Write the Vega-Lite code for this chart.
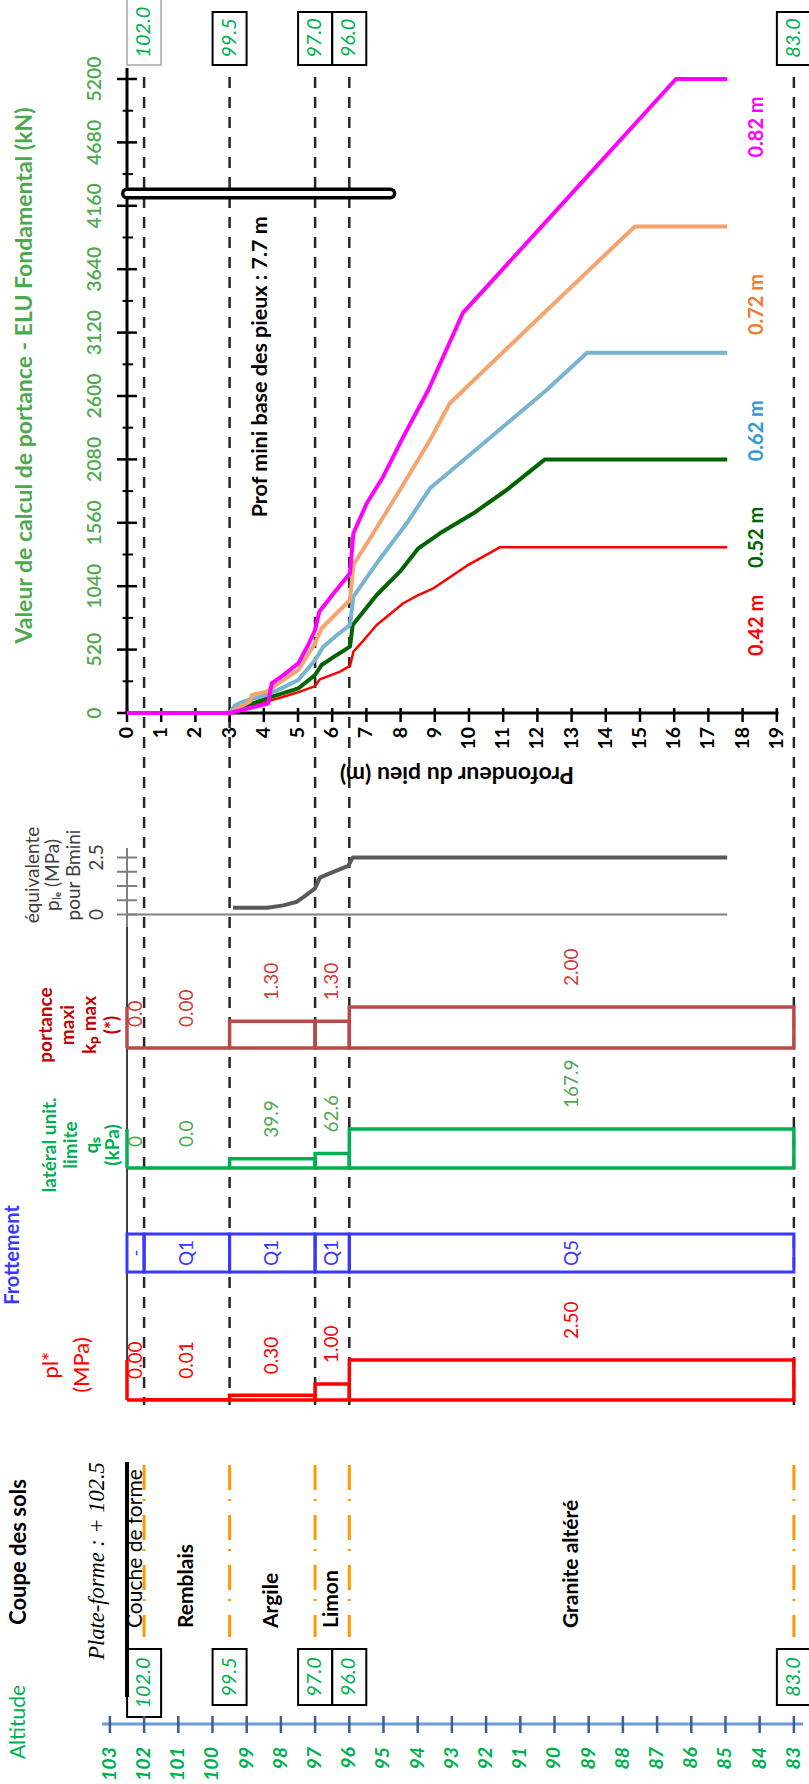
{
"$schema": "https://vega.github.io/schema/vega-lite/v6.json",
"width": 809, "height": 1784, "padding": 0, "autosize": {"type": "none"},
"background": "white",
"config": {"view": {"stroke": null}, "text": {"font": "Lato"}},
"datasets": {
"one": [{}],
"bounds": [{"depth": 0.5, "alt": "102.0"}, {"depth": 3, "alt": "99.5"}, {"depth": 5.5, "alt": "97.0"}, {"depth": 6.5, "alt": "96.0"}, {"depth": 19.5, "alt": "83.0"}],
"layers": [
 {"top": 0, "bottom": 0.5, "mid": 0.25, "soil": "Couche de forme", "pl": 0.00, "frot": "-", "qs": 0, "qs_lbl": "0", "kp": 0, "kp_lbl": "0.0"},
 {"top": 0.5, "bottom": 3, "mid": 1.75, "soil": "Remblais", "pl": 0.01, "frot": "Q1", "qs": 0, "qs_lbl": "0.0", "kp": 0, "kp_lbl": "0.00"},
 {"top": 3, "bottom": 5.5, "mid": 4.25, "soil": "Argile", "pl": 0.30, "frot": "Q1", "qs": 39.9, "qs_lbl": "39.9", "kp": 1.30, "kp_lbl": "1.30"},
 {"top": 5.5, "bottom": 6.5, "mid": 6.0, "soil": "Limon", "pl": 1.00, "frot": "Q1", "qs": 62.6, "qs_lbl": "62.6", "kp": 1.30, "kp_lbl": "1.30"},
 {"top": 6.5, "bottom": 19.5, "mid": 13.0, "soil": "Granite altéré", "pl": 2.50, "frot": "Q5", "qs": 167.9, "qs_lbl": "167.9", "kp": 2.00, "kp_lbl": "2.00"}],
"depthticks": [{"depth":0},{"depth":1},{"depth":2},{"depth":3},{"depth":4},{"depth":5},{"depth":6},{"depth":7},{"depth":8},{"depth":9},{"depth":10},{"depth":11},{"depth":12},{"depth":13},{"depth":14},{"depth":15},{"depth":16},{"depth":17},{"depth":18},{"depth":19}],
"capticks": [{"cap":0},{"cap":520},{"cap":1040},{"cap":1560},{"cap":2080},{"cap":2600},{"cap":3120},{"cap":3640},{"cap":4160},{"cap":4680},{"cap":5200}],
"capminor": [{"cap":260},{"cap":780},{"cap":1300},{"cap":1820},{"cap":2340},{"cap":2860},{"cap":3380},{"cap":3900},{"cap":4420},{"cap":4940}],
"altticks": [{"alt":103},{"alt":102},{"alt":101},{"alt":100},{"alt":99},{"alt":98},{"alt":97},{"alt":96},{"alt":95},{"alt":94},{"alt":93},{"alt":92},{"alt":91},{"alt":90},{"alt":89},{"alt":88},{"alt":87},{"alt":86},{"alt":85},{"alt":84},{"alt":83}],
"pilemin": [{"depth": 0, "cap": 4260}, {"depth": 7.7, "cap": 4260}],
"ple": [{"depth":3.1,"ple":0.30},{"depth":4.1,"ple":0.30},{"depth":4.57,"ple":0.40},{"depth":4.97,"ple":0.56},{"depth":5.2,"ple":0.81},{"depth":5.5,"ple":1.15},{"depth":5.64,"ple":1.62},{"depth":6.0,"ple":1.85},{"depth":6.47,"ple":2.13},{"depth":6.6,"ple":2.5},{"depth":17.55,"ple":2.5}],
"pleticks": [{"ple":0},{"ple":0.625},{"ple":1.25},{"ple":1.875},{"ple":2.5}],
"plelabels": [{"ple":0,"t":"0"},{"ple":2.5,"t":"2.5"}],
"curves": [
 {"s":"0.42 m","depth":0,"cap":0},{"s":"0.42 m","depth":3,"cap":0},{"s":"0.42 m","depth":3.5,"cap":40},{"s":"0.42 m","depth":4.08,"cap":93},{"s":"0.42 m","depth":4.6,"cap":135},{"s":"0.42 m","depth":5.06,"cap":175},{"s":"0.42 m","depth":5.5,"cap":221},{"s":"0.42 m","depth":5.64,"cap":276},{"s":"0.42 m","depth":6.23,"cap":339},{"s":"0.42 m","depth":6.52,"cap":386},{"s":"0.42 m","depth":6.62,"cap":503},{"s":"0.42 m","depth":6.9,"cap":590},{"s":"0.42 m","depth":7.3,"cap":722},{"s":"0.42 m","depth":8.08,"cap":900},{"s":"0.42 m","depth":8.5,"cap":965},{"s":"0.42 m","depth":8.96,"cap":1023},{"s":"0.42 m","depth":9.93,"cap":1206},{"s":"0.42 m","depth":10.9,"cap":1359},{"s":"0.42 m","depth":17.55,"cap":1359},
 {"s":"0.52 m","depth":0,"cap":0},{"s":"0.52 m","depth":3,"cap":0},{"s":"0.52 m","depth":3.2,"cap":30},{"s":"0.52 m","depth":3.6,"cap":70},{"s":"0.52 m","depth":4.08,"cap":120},{"s":"0.52 m","depth":5.01,"cap":202},{"s":"0.52 m","depth":5.5,"cap":312},{"s":"0.52 m","depth":5.69,"cap":394},{"s":"0.52 m","depth":6.1,"cap":470},{"s":"0.52 m","depth":6.52,"cap":544},{"s":"0.52 m","depth":6.6,"cap":722},{"s":"0.52 m","depth":7.3,"cap":968},{"s":"0.52 m","depth":7.98,"cap":1159},{"s":"0.52 m","depth":8.52,"cap":1351},{"s":"0.52 m","depth":9.15,"cap":1474},{"s":"0.52 m","depth":10.13,"cap":1638},{"s":"0.52 m","depth":11.1,"cap":1829},{"s":"0.52 m","depth":12.22,"cap":2080},{"s":"0.52 m","depth":17.55,"cap":2080},
 {"s":"0.62 m","depth":0,"cap":0},{"s":"0.62 m","depth":3,"cap":0},{"s":"0.62 m","depth":3.15,"cap":60},{"s":"0.62 m","depth":3.4,"cap":93},{"s":"0.62 m","depth":4.08,"cap":148},{"s":"0.62 m","depth":4.5,"cap":200},{"s":"0.62 m","depth":5.01,"cap":271},{"s":"0.62 m","depth":5.5,"cap":435},{"s":"0.62 m","depth":5.74,"cap":544},{"s":"0.62 m","depth":6.1,"cap":630},{"s":"0.62 m","depth":6.52,"cap":722},{"s":"0.62 m","depth":6.62,"cap":954},{"s":"0.62 m","depth":7.3,"cap":1228},{"s":"0.62 m","depth":8.18,"cap":1556},{"s":"0.62 m","depth":8.86,"cap":1843},{"s":"0.62 m","depth":9.74,"cap":2050},{"s":"0.62 m","depth":10.9,"cap":2325},{"s":"0.62 m","depth":12.27,"cap":2649},{"s":"0.62 m","depth":13.45,"cap":2955},{"s":"0.62 m","depth":17.55,"cap":2955},
 {"s":"0.72 m","depth":0,"cap":0},{"s":"0.72 m","depth":3,"cap":0},{"s":"0.72 m","depth":3.3,"cap":50},{"s":"0.72 m","depth":3.6,"cap":95},{"s":"0.72 m","depth":3.65,"cap":148},{"s":"0.72 m","depth":4.08,"cap":175},{"s":"0.72 m","depth":4.5,"cap":260},{"s":"0.72 m","depth":5.01,"cap":353},{"s":"0.72 m","depth":5.5,"cap":572},{"s":"0.72 m","depth":5.69,"cap":695},{"s":"0.72 m","depth":6.13,"cap":818},{"s":"0.72 m","depth":6.52,"cap":927},{"s":"0.72 m","depth":6.62,"cap":1214},{"s":"0.72 m","depth":7.2,"cap":1474},{"s":"0.72 m","depth":7.98,"cap":1829},{"s":"0.72 m","depth":8.86,"cap":2239},{"s":"0.72 m","depth":9.44,"cap":2540},{"s":"0.72 m","depth":12,"cap":3230},{"s":"0.72 m","depth":14.85,"cap":3990},{"s":"0.72 m","depth":17.55,"cap":3990},
 {"s":"0.82 m","depth":0,"cap":0},{"s":"0.82 m","depth":3,"cap":0},{"s":"0.82 m","depth":3.5,"cap":35},{"s":"0.82 m","depth":4.13,"cap":78},{"s":"0.82 m","depth":4.23,"cap":243},{"s":"0.82 m","depth":4.57,"cap":311},{"s":"0.82 m","depth":5.01,"cap":407},{"s":"0.82 m","depth":5.3,"cap":560},{"s":"0.82 m","depth":5.5,"cap":681},{"s":"0.82 m","depth":5.62,"cap":831},{"s":"0.82 m","depth":6.08,"cap":995},{"s":"0.82 m","depth":6.52,"cap":1146},{"s":"0.82 m","depth":6.62,"cap":1474},{"s":"0.82 m","depth":7.01,"cap":1720},{"s":"0.82 m","depth":7.49,"cap":1938},{"s":"0.82 m","depth":8.08,"cap":2266},{"s":"0.82 m","depth":8.81,"cap":2649},{"s":"0.82 m","depth":9.82,"cap":3281},{"s":"0.82 m","depth":13,"cap":4260},{"s":"0.82 m","depth":16.05,"cap":5200},{"s":"0.82 m","depth":17.55,"cap":5200}]
},
"layer": [
{
"layer": [
 {"data": {"name": "bounds"}, "mark": {"type": "rule", "color": "#262626", "strokeWidth": 2.5, "strokeDash": [11, 9]},
  "encoding": {"x": {"field": "depth", "type": "quantitative", "scale": {"domain": [-3.7135, 19.942], "nice": false, "zero": false}, "axis": null},
   "y": {"datum": 95.684, "type": "quantitative", "scale": {"domain": [0, 100], "nice": false, "zero": false}, "axis": null}, "y2": {"datum": 21.244}}},
 {"data": {"name": "one"}, "mark": {"type": "rule", "color": "#000000", "strokeWidth": 1.5},
  "encoding": {"x": {"datum": 0, "type": "quantitative", "scale": {"domain": [-3.7135, 19.942], "nice": false, "zero": false}, "axis": null},
   "y": {"datum": 48.038, "type": "quantitative", "scale": {"domain": [0, 100], "nice": false, "zero": false}, "axis": null}, "y2": {"datum": 21.525}}},

 {"data": {"name": "one"}, "mark": {"type": "rule", "color": "#000000", "strokeWidth": 3},
  "encoding": {"x": {"datum": 0, "type": "quantitative", "scale": {"domain": [-3.7135, 19.942], "nice": false, "zero": false}, "axis": null},
   "y": {"datum": 0, "type": "quantitative", "scale": {"domain": [-8784.2, 5847.9], "nice": false, "zero": false}, "axis": null}, "y2": {"datum": 5290}}},
 {"data": {"name": "one"}, "mark": {"type": "rule", "color": "#000000", "strokeWidth": 3},
  "encoding": {"x": {"datum": 0, "type": "quantitative", "scale": {"domain": [-3.7135, 19.942], "nice": false, "zero": false}, "axis": null}, "x2": {"datum": 19.05},
   "y": {"datum": 0, "type": "quantitative", "scale": {"domain": [-8784.2, 5847.9], "nice": false, "zero": false}, "axis": null}}},
 {"data": {"name": "capticks"}, "mark": {"type": "rule", "color": "#000000", "strokeWidth": 2.5},
  "encoding": {"x": {"datum": -0.292, "type": "quantitative", "scale": {"domain": [-3.7135, 19.942], "nice": false, "zero": false}, "axis": null}, "x2": {"datum": 0.292},
   "y": {"field": "cap", "type": "quantitative", "scale": {"domain": [-8784.2, 5847.9], "nice": false, "zero": false}, "axis": null}}},
 {"data": {"name": "capminor"}, "mark": {"type": "rule", "color": "#000000", "strokeWidth": 2},
  "encoding": {"x": {"datum": -0.13, "type": "quantitative", "scale": {"domain": [-3.7135, 19.942], "nice": false, "zero": false}, "axis": null}, "x2": {"datum": 0.18},
   "y": {"field": "cap", "type": "quantitative", "scale": {"domain": [-8784.2, 5847.9], "nice": false, "zero": false}, "axis": null}}},
 {"data": {"name": "capticks"}, "mark": {"type": "text", "angle": 270, "align": "center", "baseline": "middle", "fontSize": 19.5, "fontWeight": 600, "color": "#4EA84E"},
  "encoding": {"x": {"datum": -0.936, "type": "quantitative", "scale": {"domain": [-3.7135, 19.942], "nice": false, "zero": false}, "axis": null},
   "y": {"field": "cap", "type": "quantitative", "scale": {"domain": [-8784.2, 5847.9], "nice": false, "zero": false}, "axis": null},
   "text": {"field": "cap", "type": "quantitative", "format": "d"}}},
 {"data": {"name": "depthticks"}, "mark": {"type": "rule", "color": "#000000", "strokeWidth": 2.5},
  "encoding": {"x": {"field": "depth", "type": "quantitative", "scale": {"domain": [-3.7135, 19.942], "nice": false, "zero": false}, "axis": null},
   "y": {"datum": 41, "type": "quantitative", "scale": {"domain": [-8784.2, 5847.9], "nice": false, "zero": false}, "axis": null}, "y2": {"datum": -74}}},
 {"data": {"name": "depthticks"}, "mark": {"type": "text", "angle": 270, "align": "right", "baseline": "middle", "fontSize": 19.5, "fontWeight": "bold", "color": "#000000"},
  "encoding": {"x": {"field": "depth", "type": "quantitative", "scale": {"domain": [-3.7135, 19.942], "nice": false, "zero": false}, "axis": null},
   "y": {"datum": -114.8, "type": "quantitative", "scale": {"domain": [-8784.2, 5847.9], "nice": false, "zero": false}, "axis": null},
   "text": {"field": "depth", "type": "quantitative", "format": "d"}}},
 {"data": {"name": "one"}, "mark": {"type": "text", "angle": 270, "align": "center", "baseline": "middle", "fontSize": 23, "fontWeight": "bold", "color": "#4EA84E", "text": "Valeur de calcul de portance - ELU Fondamental (kN)"},
  "encoding": {"x": {"datum": -2.982, "type": "quantitative", "scale": {"domain": [-3.7135, 19.942], "nice": false, "zero": false}, "axis": null},
   "y": {"datum": 2768, "type": "quantitative", "scale": {"domain": [-8784.2, 5847.9], "nice": false, "zero": false}, "axis": null}}},

 {"data": {"name": "curves"}, "transform": [{"filter": {"field": "s", "equal": "0.42 m"}}], "mark": {"type": "line", "color": "#FF0000", "strokeWidth": 2.5, "strokeJoin": "round"},
  "encoding": {"x": {"field": "depth", "type": "quantitative", "scale": {"domain": [-3.7135, 19.942], "nice": false, "zero": false}, "axis": null},
   "y": {"field": "cap", "type": "quantitative", "scale": {"domain": [-8784.2, 5847.9], "nice": false, "zero": false}, "axis": null}}},
 {"data": {"name": "curves"}, "transform": [{"filter": {"field": "s", "equal": "0.52 m"}}], "mark": {"type": "line", "color": "#006400", "strokeWidth": 4, "strokeJoin": "round"},
  "encoding": {"x": {"field": "depth", "type": "quantitative", "scale": {"domain": [-3.7135, 19.942], "nice": false, "zero": false}, "axis": null},
   "y": {"field": "cap", "type": "quantitative", "scale": {"domain": [-8784.2, 5847.9], "nice": false, "zero": false}, "axis": null}}},
 {"data": {"name": "curves"}, "transform": [{"filter": {"field": "s", "equal": "0.62 m"}}], "mark": {"type": "line", "color": "#78B4CF", "strokeWidth": 4, "strokeJoin": "round"},
  "encoding": {"x": {"field": "depth", "type": "quantitative", "scale": {"domain": [-3.7135, 19.942], "nice": false, "zero": false}, "axis": null},
   "y": {"field": "cap", "type": "quantitative", "scale": {"domain": [-8784.2, 5847.9], "nice": false, "zero": false}, "axis": null}}},
 {"data": {"name": "curves"}, "transform": [{"filter": {"field": "s", "equal": "0.72 m"}}], "mark": {"type": "line", "color": "#F5A46F", "strokeWidth": 4, "strokeJoin": "round"},
  "encoding": {"x": {"field": "depth", "type": "quantitative", "scale": {"domain": [-3.7135, 19.942], "nice": false, "zero": false}, "axis": null},
   "y": {"field": "cap", "type": "quantitative", "scale": {"domain": [-8784.2, 5847.9], "nice": false, "zero": false}, "axis": null}}},
 {"data": {"name": "curves"}, "transform": [{"filter": {"field": "s", "equal": "0.82 m"}}], "mark": {"type": "line", "color": "#FF00FF", "strokeWidth": 4, "strokeJoin": "round"},
  "encoding": {"x": {"field": "depth", "type": "quantitative", "scale": {"domain": [-3.7135, 19.942], "nice": false, "zero": false}, "axis": null},
   "y": {"field": "cap", "type": "quantitative", "scale": {"domain": [-8784.2, 5847.9], "nice": false, "zero": false}, "axis": null}}},
 {"data": {"name": "pilemin"}, "mark": {"type": "line", "color": "#000000", "strokeWidth": 12, "strokeCap": "round"},
  "encoding": {"x": {"field": "depth", "type": "quantitative", "scale": {"domain": [-3.7135, 19.942], "nice": false, "zero": false}, "axis": null},
   "y": {"field": "cap", "type": "quantitative", "scale": {"domain": [-8784.2, 5847.9], "nice": false, "zero": false}, "axis": null}}},
 {"data": {"name": "pilemin"}, "mark": {"type": "line", "color": "#FFFFFF", "strokeWidth": 5, "strokeCap": "round"},
  "encoding": {"x": {"field": "depth", "type": "quantitative", "scale": {"domain": [-3.7135, 19.942], "nice": false, "zero": false}, "axis": null},
   "y": {"field": "cap", "type": "quantitative", "scale": {"domain": [-8784.2, 5847.9], "nice": false, "zero": false}, "axis": null}}},
 {"data": {"name": "one"}, "mark": {"type": "text", "angle": 270, "align": "center", "baseline": "middle", "fontSize": 21.5, "fontWeight": "bold", "color": "#000000", "text": "Prof mini base des pieux : 7.7 m"},
  "encoding": {"x": {"datum": 3.918, "type": "quantitative", "scale": {"domain": [-3.7135, 19.942], "nice": false, "zero": false}, "axis": null},
   "y": {"datum": 2840, "type": "quantitative", "scale": {"domain": [-8784.2, 5847.9], "nice": false, "zero": false}, "axis": null}}},
 {"data": {"name": "curves"}, "transform": [{"filter": "datum.depth == 17.55 && datum.s != '0.82 m'"}], "mark": {"type": "text", "angle": 270, "align": "center", "baseline": "middle", "fontSize": 20, "fontWeight": "bold", "dx": -78},
  "encoding": {"x": {"datum": 18.42, "type": "quantitative", "scale": {"domain": [-3.7135, 19.942], "nice": false, "zero": false}, "axis": null},
   "y": {"field": "cap", "type": "quantitative", "scale": {"domain": [-8784.2, 5847.9], "nice": false, "zero": false}, "axis": null},
   "text": {"field": "s"},
   "color": {"field": "s", "type": "nominal", "scale": {"domain": ["0.42 m", "0.52 m", "0.62 m", "0.72 m"], "range": ["#FF0000", "#006400", "#2E9AD0", "#ED7D31"]}, "legend": null}}},
 {"data": {"name": "curves"}, "transform": [{"filter": "datum.depth == 17.55 && datum.s == '0.82 m'"}], "mark": {"type": "text", "angle": 270, "align": "center", "baseline": "middle", "fontSize": 20, "fontWeight": "bold", "dx": -48, "color": "#FF00FF"},
  "encoding": {"x": {"datum": 18.42, "type": "quantitative", "scale": {"domain": [-3.7135, 19.942], "nice": false, "zero": false}, "axis": null},
   "y": {"field": "cap", "type": "quantitative", "scale": {"domain": [-8784.2, 5847.9], "nice": false, "zero": false}, "axis": null},
   "text": {"field": "s"}}},
 {"data": {"name": "one"}, "mark": {"type": "text", "angle": 180, "align": "center", "baseline": "middle", "fontSize": 23, "fontWeight": "bold", "color": "#000000", "text": "Profondeur du pieu (m)"},
  "encoding": {"x": {"datum": 9.649, "type": "quantitative", "scale": {"domain": [-3.7135, 19.942], "nice": false, "zero": false}, "axis": null},
   "y": {"datum": 56.614, "type": "quantitative", "scale": {"domain": [0, 100], "nice": false, "zero": false}, "axis": null}}},

 {"data": {"name": "one"}, "mark": {"type": "rule", "color": "#7F7F7F", "strokeWidth": 2},
  "encoding": {"x": {"datum": 0, "type": "quantitative", "scale": {"domain": [-3.7135, 19.942], "nice": false, "zero": false}, "axis": null}, "x2": {"datum": 17.55},
   "y": {"datum": 0, "type": "quantitative", "scale": {"domain": [-38.136, 40.110], "nice": false, "zero": false}, "axis": null}}},
 {"data": {"name": "one"}, "mark": {"type": "rule", "color": "#7F7F7F", "strokeWidth": 2},
  "encoding": {"x": {"datum": 0, "type": "quantitative", "scale": {"domain": [-3.7135, 19.942], "nice": false, "zero": false}, "axis": null},
   "y": {"datum": -0.55, "type": "quantitative", "scale": {"domain": [-38.136, 40.110], "nice": false, "zero": false}, "axis": null}, "y2": {"datum": 2.92}}},
 {"data": {"name": "pleticks"}, "mark": {"type": "rule", "color": "#7F7F7F", "strokeWidth": 2},
  "encoding": {"x": {"datum": -0.292, "type": "quantitative", "scale": {"domain": [-3.7135, 19.942], "nice": false, "zero": false}, "axis": null}, "x2": {"datum": 0.292},
   "y": {"field": "ple", "type": "quantitative", "scale": {"domain": [-38.136, 40.110], "nice": false, "zero": false}, "axis": null}}},
 {"data": {"name": "plelabels"}, "mark": {"type": "text", "angle": 270, "align": "center", "baseline": "middle", "fontSize": 19, "color": "#404040"},
  "encoding": {"x": {"datum": -0.877, "type": "quantitative", "scale": {"domain": [-3.7135, 19.942], "nice": false, "zero": false}, "axis": null},
   "y": {"field": "ple", "type": "quantitative", "scale": {"domain": [-38.136, 40.110], "nice": false, "zero": false}, "axis": null},
   "text": {"field": "t"}}},
 {"data": {"name": "ple"}, "mark": {"type": "line", "color": "#595959", "strokeWidth": 4, "strokeJoin": "round"},
  "encoding": {"x": {"field": "depth", "type": "quantitative", "scale": {"domain": [-3.7135, 19.942], "nice": false, "zero": false}, "axis": null},
   "y": {"field": "ple", "type": "quantitative", "scale": {"domain": [-38.136, 40.110], "nice": false, "zero": false}, "axis": null}}},

 {"data": {"name": "layers"}, "mark": {"type": "rect", "fill": null, "stroke": "#B94A48", "strokeWidth": 3.5},
  "encoding": {"x": {"field": "top", "type": "quantitative", "scale": {"domain": [-3.7135, 19.942], "nice": false, "zero": false}, "axis": null}, "x2": {"field": "bottom"},
   "y": {"field": "kp", "type": "quantitative", "scale": {"domain": [-35.902, 51.122], "nice": false, "zero": false}, "axis": null}, "y2": {"datum": 0}}},
 {"data": {"name": "one"}, "mark": {"type": "rule", "color": "#B94A48", "strokeWidth": 3.5},
  "encoding": {"x": {"datum": 0, "type": "quantitative", "scale": {"domain": [-3.7135, 19.942], "nice": false, "zero": false}, "axis": null},
   "y": {"datum": 0, "type": "quantitative", "scale": {"domain": [-35.902, 51.122], "nice": false, "zero": false}, "axis": null}, "y2": {"datum": 2.0}}},
 {"data": {"name": "layers"}, "mark": {"type": "text", "angle": 270, "align": "left", "baseline": "middle", "fontSize": 19, "color": "#D03A36", "dx": 21},
  "encoding": {"x": {"field": "mid", "type": "quantitative", "scale": {"domain": [-3.7135, 19.942], "nice": false, "zero": false}, "axis": null},
   "y": {"field": "kp", "type": "quantitative", "scale": {"domain": [-35.902, 51.122], "nice": false, "zero": false}, "axis": null},
   "text": {"field": "kp_lbl"}}},

 {"data": {"name": "layers"}, "mark": {"type": "rect", "fill": null, "stroke": "#00B050", "strokeWidth": 3.5},
  "encoding": {"x": {"field": "top", "type": "quantitative", "scale": {"domain": [-3.7135, 19.942], "nice": false, "zero": false}, "axis": null}, "x2": {"field": "bottom"},
   "y": {"field": "qs", "type": "quantitative", "scale": {"domain": [-2652.0, 5028.4], "nice": false, "zero": false}, "axis": null}, "y2": {"datum": 0}}},
 {"data": {"name": "one"}, "mark": {"type": "rule", "color": "#00B050", "strokeWidth": 3.5},
  "encoding": {"x": {"datum": 0, "type": "quantitative", "scale": {"domain": [-3.7135, 19.942], "nice": false, "zero": false}, "axis": null},
   "y": {"datum": 0, "type": "quantitative", "scale": {"domain": [-2652.0, 5028.4], "nice": false, "zero": false}, "axis": null}, "y2": {"datum": 167.9}}},
 {"data": {"name": "layers"}, "mark": {"type": "text", "angle": 270, "align": "left", "baseline": "middle", "fontSize": 19, "color": "#4EA84E", "dx": 21},
  "encoding": {"x": {"field": "mid", "type": "quantitative", "scale": {"domain": [-3.7135, 19.942], "nice": false, "zero": false}, "axis": null},
   "y": {"field": "qs", "type": "quantitative", "scale": {"domain": [-2652.0, 5028.4], "nice": false, "zero": false}, "axis": null},
   "text": {"field": "qs_lbl"}}},

 {"data": {"name": "layers"}, "mark": {"type": "rect", "fill": null, "stroke": "#3838FF", "strokeWidth": 3},
  "encoding": {"x": {"field": "top", "type": "quantitative", "scale": {"domain": [-3.7135, 19.942], "nice": false, "zero": false}, "axis": null}, "x2": {"field": "bottom"},
   "y": {"datum": 0, "type": "quantitative", "scale": {"domain": [-13.474, 33.474], "nice": false, "zero": false}, "axis": null}, "y2": {"datum": 1}}},
 {"data": {"name": "layers"}, "mark": {"type": "text", "angle": 270, "align": "center", "baseline": "middle", "fontSize": 19, "color": "#3838FF"},
  "encoding": {"x": {"field": "mid", "type": "quantitative", "scale": {"domain": [-3.7135, 19.942], "nice": false, "zero": false}, "axis": null},
   "y": {"datum": 0.5, "type": "quantitative", "scale": {"domain": [-13.474, 33.474], "nice": false, "zero": false}, "axis": null},
   "text": {"field": "frot"}}},

 {"data": {"name": "layers"}, "mark": {"type": "rect", "fill": null, "stroke": "#FF0000", "strokeWidth": 3.5},
  "encoding": {"x": {"field": "top", "type": "quantitative", "scale": {"domain": [-3.7135, 19.942], "nice": false, "zero": false}, "axis": null}, "x2": {"field": "bottom"},
   "y": {"field": "pl", "type": "quantitative", "scale": {"domain": [-24, 87.5], "nice": false, "zero": false}, "axis": null}, "y2": {"datum": 0}}},
 {"data": {"name": "one"}, "mark": {"type": "rule", "color": "#FF0000", "strokeWidth": 3.5},
  "encoding": {"x": {"datum": 0, "type": "quantitative", "scale": {"domain": [-3.7135, 19.942], "nice": false, "zero": false}, "axis": null},
   "y": {"datum": 0, "type": "quantitative", "scale": {"domain": [-24, 87.5], "nice": false, "zero": false}, "axis": null}, "y2": {"datum": 2.5}}},
 {"data": {"name": "layers"}, "mark": {"type": "text", "angle": 270, "align": "left", "baseline": "middle", "fontSize": 19, "color": "#FF0000", "dx": 21},
  "encoding": {"x": {"field": "mid", "type": "quantitative", "scale": {"domain": [-3.7135, 19.942], "nice": false, "zero": false}, "axis": null},
   "y": {"field": "pl", "type": "quantitative", "scale": {"domain": [-24, 87.5], "nice": false, "zero": false}, "axis": null},
   "text": {"field": "pl", "type": "quantitative", "format": ".2f"}}},

 {"data": {"name": "bounds"}, "mark": {"type": "rule", "color": "#FF9900", "strokeWidth": 3, "strokeDash": [25, 9, 2, 14]},
  "encoding": {"x": {"field": "depth", "type": "quantitative", "scale": {"domain": [-3.7135, 19.942], "nice": false, "zero": false}, "axis": null},
   "y": {"datum": 17.881, "type": "quantitative", "scale": {"domain": [0, 100], "nice": false, "zero": false}, "axis": null}, "y2": {"datum": 8.24}}},
 {"data": {"name": "one"}, "mark": {"type": "rule", "color": "#000000", "strokeWidth": 4},
  "encoding": {"x": {"datum": 0, "type": "quantitative", "scale": {"domain": [-3.7135, 19.942], "nice": false, "zero": false}, "axis": null},
   "y": {"datum": 18.049, "type": "quantitative", "scale": {"domain": [0, 100], "nice": false, "zero": false}, "axis": null}, "y2": {"datum": 4.877}}},
 {"data": {"name": "layers"}, "transform": [{"filter": {"field": "soil", "equal": "Couche de forme"}}], "mark": {"type": "text", "angle": 270, "align": "left", "baseline": "middle", "fontSize": 21, "color": "#000000"},
  "encoding": {"x": {"field": "mid", "type": "quantitative", "scale": {"domain": [-3.7135, 19.942], "nice": false, "zero": false}, "axis": null},
   "y": {"datum": 8.744, "type": "quantitative", "scale": {"domain": [0, 100], "nice": false, "zero": false}, "axis": null},
   "text": {"field": "soil"}}},
 {"data": {"name": "layers"}, "transform": [{"filter": "datum.soil != 'Couche de forme'"}], "mark": {"type": "text", "angle": 270, "align": "left", "baseline": "middle", "fontSize": 21, "fontWeight": "bold", "color": "#000000"},
  "encoding": {"x": {"field": "mid", "type": "quantitative", "scale": {"domain": [-3.7135, 19.942], "nice": false, "zero": false}, "axis": null},
   "y": {"datum": 8.744, "type": "quantitative", "scale": {"domain": [0, 100], "nice": false, "zero": false}, "axis": null},
   "text": {"field": "soil"}}},
 {"data": {"name": "one"}, "mark": {"type": "text", "angle": 270, "align": "center", "baseline": "middle", "fontSize": 22.5, "font": "Liberation Serif", "fontStyle": "italic", "color": "#000000", "text": "Plate-forme : + 102.5"},
  "encoding": {"x": {"datum": -0.877, "type": "quantitative", "scale": {"domain": [-3.7135, 19.942], "nice": false, "zero": false}, "axis": null},
   "y": {"datum": 12.5, "type": "quantitative", "scale": {"domain": [0, 100], "nice": false, "zero": false}, "axis": null}}},

 {"data": {"name": "bounds"}, "transform": [{"filter": "datum.alt != '102.0'"}], "mark": {"type": "rect", "width": 34, "fill": "white", "stroke": "#000000", "strokeWidth": 2},
  "encoding": {"x": {"field": "depth", "type": "quantitative", "scale": {"domain": [-3.7135, 19.942], "nice": false, "zero": false}, "axis": null},
   "y": {"datum": 99.327, "type": "quantitative", "scale": {"domain": [0, 100], "nice": false, "zero": false}, "axis": null}, "y2": {"datum": 96.357}}},
 {"data": {"name": "bounds"}, "transform": [{"filter": "datum.alt == '102.0'"}], "mark": {"type": "rect", "width": 34, "fill": "white", "stroke": "#A6A6A6", "strokeWidth": 1.5},
  "encoding": {"x": {"field": "depth", "type": "quantitative", "scale": {"domain": [-3.7135, 19.942], "nice": false, "zero": false}, "axis": null},
   "y": {"datum": 100.168, "type": "quantitative", "scale": {"domain": [0, 100], "nice": false, "zero": false}, "axis": null}, "y2": {"datum": 96.357}}},
 {"data": {"name": "bounds"}, "transform": [{"filter": "datum.alt != '102.0'"}], "mark": {"type": "text", "angle": 270, "align": "center", "baseline": "middle", "fontSize": 20, "fontStyle": "italic", "color": "#00B050"},
  "encoding": {"x": {"field": "depth", "type": "quantitative", "scale": {"domain": [-3.7135, 19.942], "nice": false, "zero": false}, "axis": null},
   "y": {"datum": 97.87, "type": "quantitative", "scale": {"domain": [0, 100], "nice": false, "zero": false}, "axis": null},
   "text": {"field": "alt"}}},
 {"data": {"name": "bounds"}, "transform": [{"filter": "datum.alt == '102.0'"}], "mark": {"type": "text", "angle": 270, "align": "center", "baseline": "middle", "fontSize": 20, "fontStyle": "italic", "color": "#00B050"},
  "encoding": {"x": {"field": "depth", "type": "quantitative", "scale": {"domain": [-3.7135, 19.942], "nice": false, "zero": false}, "axis": null},
   "y": {"datum": 98.2, "type": "quantitative", "scale": {"domain": [0, 100], "nice": false, "zero": false}, "axis": null},
   "text": {"field": "alt"}}},
 {"data": {"name": "bounds"}, "transform": [{"filter": "datum.alt != '102.0'"}], "mark": {"type": "rect", "width": 34, "fill": "white", "stroke": "#000000", "strokeWidth": 2},
  "encoding": {"x": {"field": "depth", "type": "quantitative", "scale": {"domain": [-3.7135, 19.942], "nice": false, "zero": false}, "axis": null},
   "y": {"datum": 7.567, "type": "quantitative", "scale": {"domain": [0, 100], "nice": false, "zero": false}, "axis": null}, "y2": {"datum": 4.428}}},
 {"data": {"name": "bounds"}, "transform": [{"filter": "datum.alt == '102.0'"}], "mark": {"type": "rect", "width": 34, "fill": null, "stroke": "#000000", "strokeWidth": 2},
  "encoding": {"x": {"field": "depth", "type": "quantitative", "scale": {"domain": [-3.7135, 19.942], "nice": false, "zero": false}, "axis": null},
   "y": {"datum": 7.567, "type": "quantitative", "scale": {"domain": [0, 100], "nice": false, "zero": false}, "axis": null}, "y2": {"datum": 3.756}}},
 {"data": {"name": "bounds"}, "transform": [{"filter": "datum.alt != '102.0'"}], "mark": {"type": "text", "angle": 270, "align": "center", "baseline": "middle", "fontSize": 20, "fontStyle": "italic", "color": "#00B050"},
  "encoding": {"x": {"field": "depth", "type": "quantitative", "scale": {"domain": [-3.7135, 19.942], "nice": false, "zero": false}, "axis": null},
   "y": {"datum": 5.998, "type": "quantitative", "scale": {"domain": [0, 100], "nice": false, "zero": false}, "axis": null},
   "text": {"field": "alt"}}},
 {"data": {"name": "bounds"}, "transform": [{"filter": "datum.alt == '102.0'"}], "mark": {"type": "text", "angle": 270, "align": "center", "baseline": "middle", "fontSize": 20, "fontStyle": "italic", "color": "#00B050"},
  "encoding": {"x": {"field": "depth", "type": "quantitative", "scale": {"domain": [-3.7135, 19.942], "nice": false, "zero": false}, "axis": null},
   "y": {"datum": 5.661, "type": "quantitative", "scale": {"domain": [0, 100], "nice": false, "zero": false}, "axis": null},
   "text": {"field": "alt"}}},

 {"data": {"name": "one"}, "mark": {"type": "text", "angle": 270, "align": "center", "baseline": "middle", "fontSize": 19, "lineHeight": 20.5, "color": "#404040", "text": ["équivalente", "pₗₑ (MPa)", "pour Bmini"]},
  "encoding": {"x": {"datum": -2.749, "type": "quantitative", "scale": {"domain": [-3.7135, 19.942], "nice": false, "zero": false}, "axis": null},
   "y": {"datum": 50.953, "type": "quantitative", "scale": {"domain": [0, 100], "nice": false, "zero": false}, "axis": null}}},
 {"data": {"name": "one"}, "mark": {"type": "text", "angle": 270, "align": "center", "baseline": "middle", "fontSize": 19, "fontWeight": "bold", "lineHeight": 22, "color": "#C00000", "text": ["portance", "maxi", "kₚ max", "(*)"]},
  "encoding": {"x": {"datum": -2.368, "type": "quantitative", "scale": {"domain": [-3.7135, 19.942], "nice": false, "zero": false}, "axis": null},
   "y": {"datum": 42.545, "type": "quantitative", "scale": {"domain": [0, 100], "nice": false, "zero": false}, "axis": null}}},
 {"data": {"name": "one"}, "mark": {"type": "text", "angle": 270, "align": "center", "baseline": "middle", "fontSize": 19, "fontWeight": "bold", "lineHeight": 21, "color": "#00B050", "text": ["latéral unit.", "limite", "qₛ", "(kPa)"]},
  "encoding": {"x": {"datum": -2.251, "type": "quantitative", "scale": {"domain": [-3.7135, 19.942], "nice": false, "zero": false}, "axis": null},
   "y": {"datum": 35.818, "type": "quantitative", "scale": {"domain": [0, 100], "nice": false, "zero": false}, "axis": null}}},
 {"data": {"name": "one"}, "mark": {"type": "text", "angle": 270, "align": "center", "baseline": "middle", "fontSize": 20, "fontWeight": "bold", "color": "#3838FF", "text": "Frottement"},
  "encoding": {"x": {"datum": -3.333, "type": "quantitative", "scale": {"domain": [-3.7135, 19.942], "nice": false, "zero": false}, "axis": null},
   "y": {"datum": 29.652, "type": "quantitative", "scale": {"domain": [0, 100], "nice": false, "zero": false}, "axis": null}}},
 {"data": {"name": "one"}, "mark": {"type": "text", "angle": 270, "align": "center", "baseline": "middle", "fontSize": 22, "lineHeight": 31, "color": "#FF0000", "text": ["pl*", "(MPa)"]},
  "encoding": {"x": {"datum": -2.222, "type": "quantitative", "scale": {"domain": [-3.7135, 19.942], "nice": false, "zero": false}, "axis": null},
   "y": {"datum": 23.487, "type": "quantitative", "scale": {"domain": [0, 100], "nice": false, "zero": false}, "axis": null}}},
 {"data": {"name": "one"}, "mark": {"type": "text", "angle": 270, "align": "center", "baseline": "middle", "fontSize": 22, "fontWeight": "bold", "color": "#000000", "text": "Coupe des sols"},
  "encoding": {"x": {"datum": -3.158, "type": "quantitative", "scale": {"domain": [-3.7135, 19.942], "nice": false, "zero": false}, "axis": null},
   "y": {"datum": 13.004, "type": "quantitative", "scale": {"domain": [0, 100], "nice": false, "zero": false}, "axis": null}}},
 {"data": {"name": "one"}, "mark": {"type": "text", "angle": 270, "align": "center", "baseline": "middle", "fontSize": 21, "color": "#00B050", "text": "Altitude"},
  "encoding": {"x": {"datum": -3.158, "type": "quantitative", "scale": {"domain": [-3.7135, 19.942], "nice": false, "zero": false}, "axis": null},
   "y": {"datum": 3.475, "type": "quantitative", "scale": {"domain": [0, 100], "nice": false, "zero": false}, "axis": null}}}
],
"resolve": {"scale": {"y": "independent"}}
},
{
"layer": [
 {"data": {"name": "one"}, "mark": {"type": "rule", "color": "#6E9BD4", "strokeWidth": 3},
  "encoding": {"x": {"datum": 103.23, "type": "quantitative", "scale": {"domain": [106.2135, 82.558], "nice": false, "zero": false}, "axis": null}, "x2": {"datum": 82.73},
   "y": {"datum": 3.363, "type": "quantitative", "scale": {"domain": [0, 100], "nice": false, "zero": false}, "axis": null}}},
 {"data": {"name": "altticks"}, "mark": {"type": "rule", "color": "#3F5F8F", "strokeWidth": 2.5},
  "encoding": {"x": {"field": "alt", "type": "quantitative", "scale": {"domain": [106.2135, 82.558], "nice": false, "zero": false}, "axis": null},
   "y": {"datum": 3.812, "type": "quantitative", "scale": {"domain": [0, 100], "nice": false, "zero": false}, "axis": null}, "y2": {"datum": 2.859}}},
 {"data": {"name": "altticks"}, "mark": {"type": "text", "angle": 270, "align": "right", "baseline": "middle", "fontSize": 19.5, "fontWeight": "bold", "fontStyle": "italic", "color": "#00B050"},
  "encoding": {"x": {"field": "alt", "type": "quantitative", "scale": {"domain": [106.2135, 82.558], "nice": false, "zero": false}, "axis": null},
   "y": {"datum": 2.074, "type": "quantitative", "scale": {"domain": [0, 100], "nice": false, "zero": false}, "axis": null},
   "text": {"field": "alt", "type": "quantitative", "format": "d"}}}
],
"resolve": {"scale": {"y": "independent"}}
}
],
"resolve": {"scale": {"x": "independent", "y": "independent"}}
}
